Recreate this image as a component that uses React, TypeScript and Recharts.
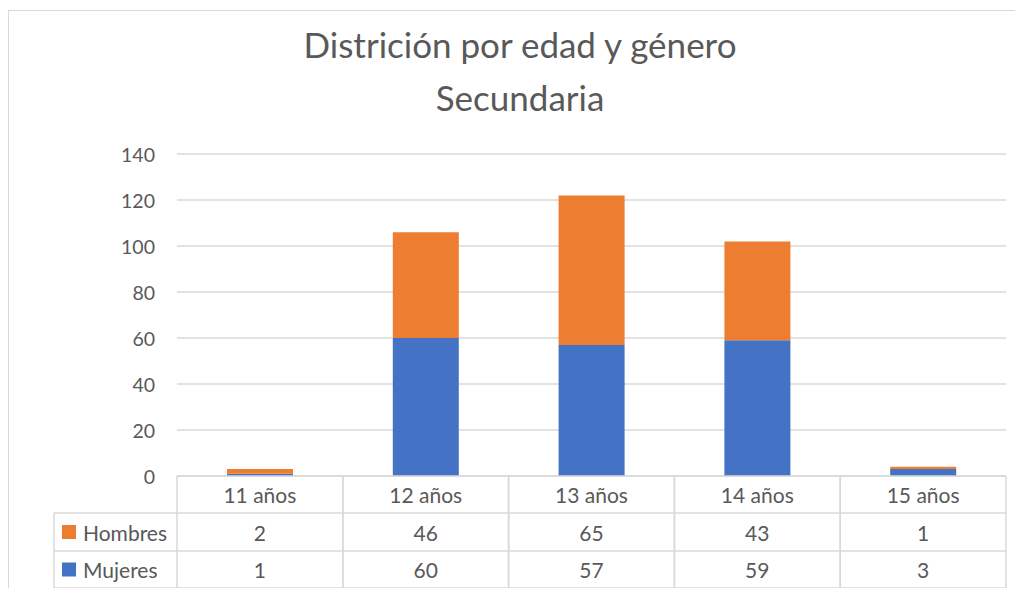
import React from 'react';
import { BarChart, Bar, XAxis, YAxis, CartesianGrid, Customized } from 'recharts';

const categories = ['11 años', '12 años', '13 años', '14 años', '15 años'];
const hombres = [2, 46, 65, 43, 1];
const mujeres = [1, 60, 57, 59, 3];
const yTicks = [0, 20, 40, 60, 80, 100, 120, 140];
const titleLines = ['Districión por edad y género', 'Secundaria'];
const seriesNames = ['Hombres', 'Mujeres'];
const seriesValues = [hombres, mujeres];

const data = categories.map((c, i) => ({ category: c, Hombres: hombres[i], Mujeres: mujeres[i] }));

const FONT = 'Lato, "Open Sans", sans-serif';
const TEXT = '#595959';
const GRID = '#D9D9D9';
const COLORS: Record<string, string> = { Hombres: '#ED7D31', Mujeres: '#4472C4' };

const W = 1015;
const H = 588;
const ROWS = [0, 37, 75, 112];
const LEGEND_W = 123;
const FS = 19.5;
const TFS = 21;

function TableTick(props: any) {
  const { x, y, payload, index, visibleTicksCount, width } = props;
  const cellW = (width || 829) / (visibleTicksCount || categories.length);
  const left = x - cellW / 2;
  const right = x + cellW / 2;
  const [r0, r1, r2, r3] = ROWS.map((r) => y + r);
  const line = { stroke: GRID, strokeWidth: 1.5 };
  return (
    <g>
      <line x1={left} x2={right} y1={r0} y2={r0} {...line} />
      <line x1={left} x2={right} y1={r1} y2={r1} {...line} />
      <line x1={left} x2={right} y1={r2} y2={r2} {...line} />
      <line x1={left} x2={right} y1={r3} y2={r3} {...line} />
      <line x1={left} x2={left} y1={r0} y2={r3} {...line} />
      <line x1={right} x2={right} y1={r0} y2={r3} {...line} />
      <text x={x} y={(r0 + r1) / 2} textAnchor="middle" dominantBaseline="central" fill={TEXT} fontSize={TFS} fontFamily={FONT}>
        {payload.value}
      </text>
      {seriesValues.map((vals, si) => (
        <text key={si} x={x} y={(ROWS[si + 1] + ROWS[si + 2]) / 2 + y} textAnchor="middle" dominantBaseline="central" fill={TEXT} fontSize={TFS} fontFamily={FONT}>
          {vals[index]}
        </text>
      ))}
      {index === 0 && (
        <g>
          <line x1={left - LEGEND_W} x2={left} y1={r1} y2={r1} {...line} />
          <line x1={left - LEGEND_W} x2={left} y1={r2} y2={r2} {...line} />
          <line x1={left - LEGEND_W} x2={left} y1={r3} y2={r3} {...line} />
          <line x1={left - LEGEND_W} x2={left - LEGEND_W} y1={r1} y2={r3} {...line} />
          {seriesNames.map((name, si) => {
            const cy = (ROWS[si + 1] + ROWS[si + 2]) / 2 + y;
            return (
              <g key={name}>
                <rect x={left - LEGEND_W + 8} y={cy - 7} width={14} height={14} fill={COLORS[name]} />
                <text x={left - LEGEND_W + 29} y={cy} dominantBaseline="central" fill={TEXT} fontSize={TFS} fontFamily={FONT}>
                  {name}
                </text>
              </g>
            );
          })}
        </g>
      )}
    </g>
  );
}

function YTick(props: any) {
  const { x, y, payload } = props;
  return (
    <text x={x} y={y} textAnchor="end" dominantBaseline="central" fill={TEXT} fontSize={FS} fontFamily={FONT}>
      {payload.value}
    </text>
  );
}

function Title() {
  return (
    <g>
      {titleLines.map((t, i) => (
        <text key={i} x={512} y={50 + i * 53} textAnchor="middle" fill={TEXT} fontSize={35} fontFamily={FONT}>
          {t}
        </text>
      ))}
    </g>
  );
}

export default function App() {
  return (
    <div style={{ position: 'relative', width: W, height: H, overflow: 'hidden', marginBottom: -8, background: '#fff' }}>
      <div
        style={{
          position: 'absolute',
          left: 0,
          top: 2,
          width: 1040,
          height: 640,
          border: '1.5px solid #D9D9D9',
          boxSizing: 'border-box',
          pointerEvents: 'none',
        }}
      />
      <BarChart width={W} height={H} data={data} margin={{ top: 146, right: 17, bottom: 0, left: 0 }}>
        <CartesianGrid vertical={false} stroke={GRID} strokeWidth={1.5} />
        <YAxis
          domain={[0, 140]}
          ticks={yTicks}
          interval={0}
          axisLine={false}
          tickLine={false}
          tickSize={0}
          tickMargin={22}
          width={169}
          tick={<YTick />}
        />
        <XAxis
          dataKey="category"
          height={120}
          axisLine={false}
          tickLine={false}
          tickSize={0}
          tickMargin={0}
          interval={0}
          tick={<TableTick />}
        />
        <Bar dataKey="Mujeres" stackId="a" fill={COLORS.Mujeres} barSize={66} isAnimationActive={false} />
        <Bar dataKey="Hombres" stackId="a" fill={COLORS.Hombres} barSize={66} isAnimationActive={false} />
        <Customized component={<Title />} />
      </BarChart>
    </div>
  );
}
